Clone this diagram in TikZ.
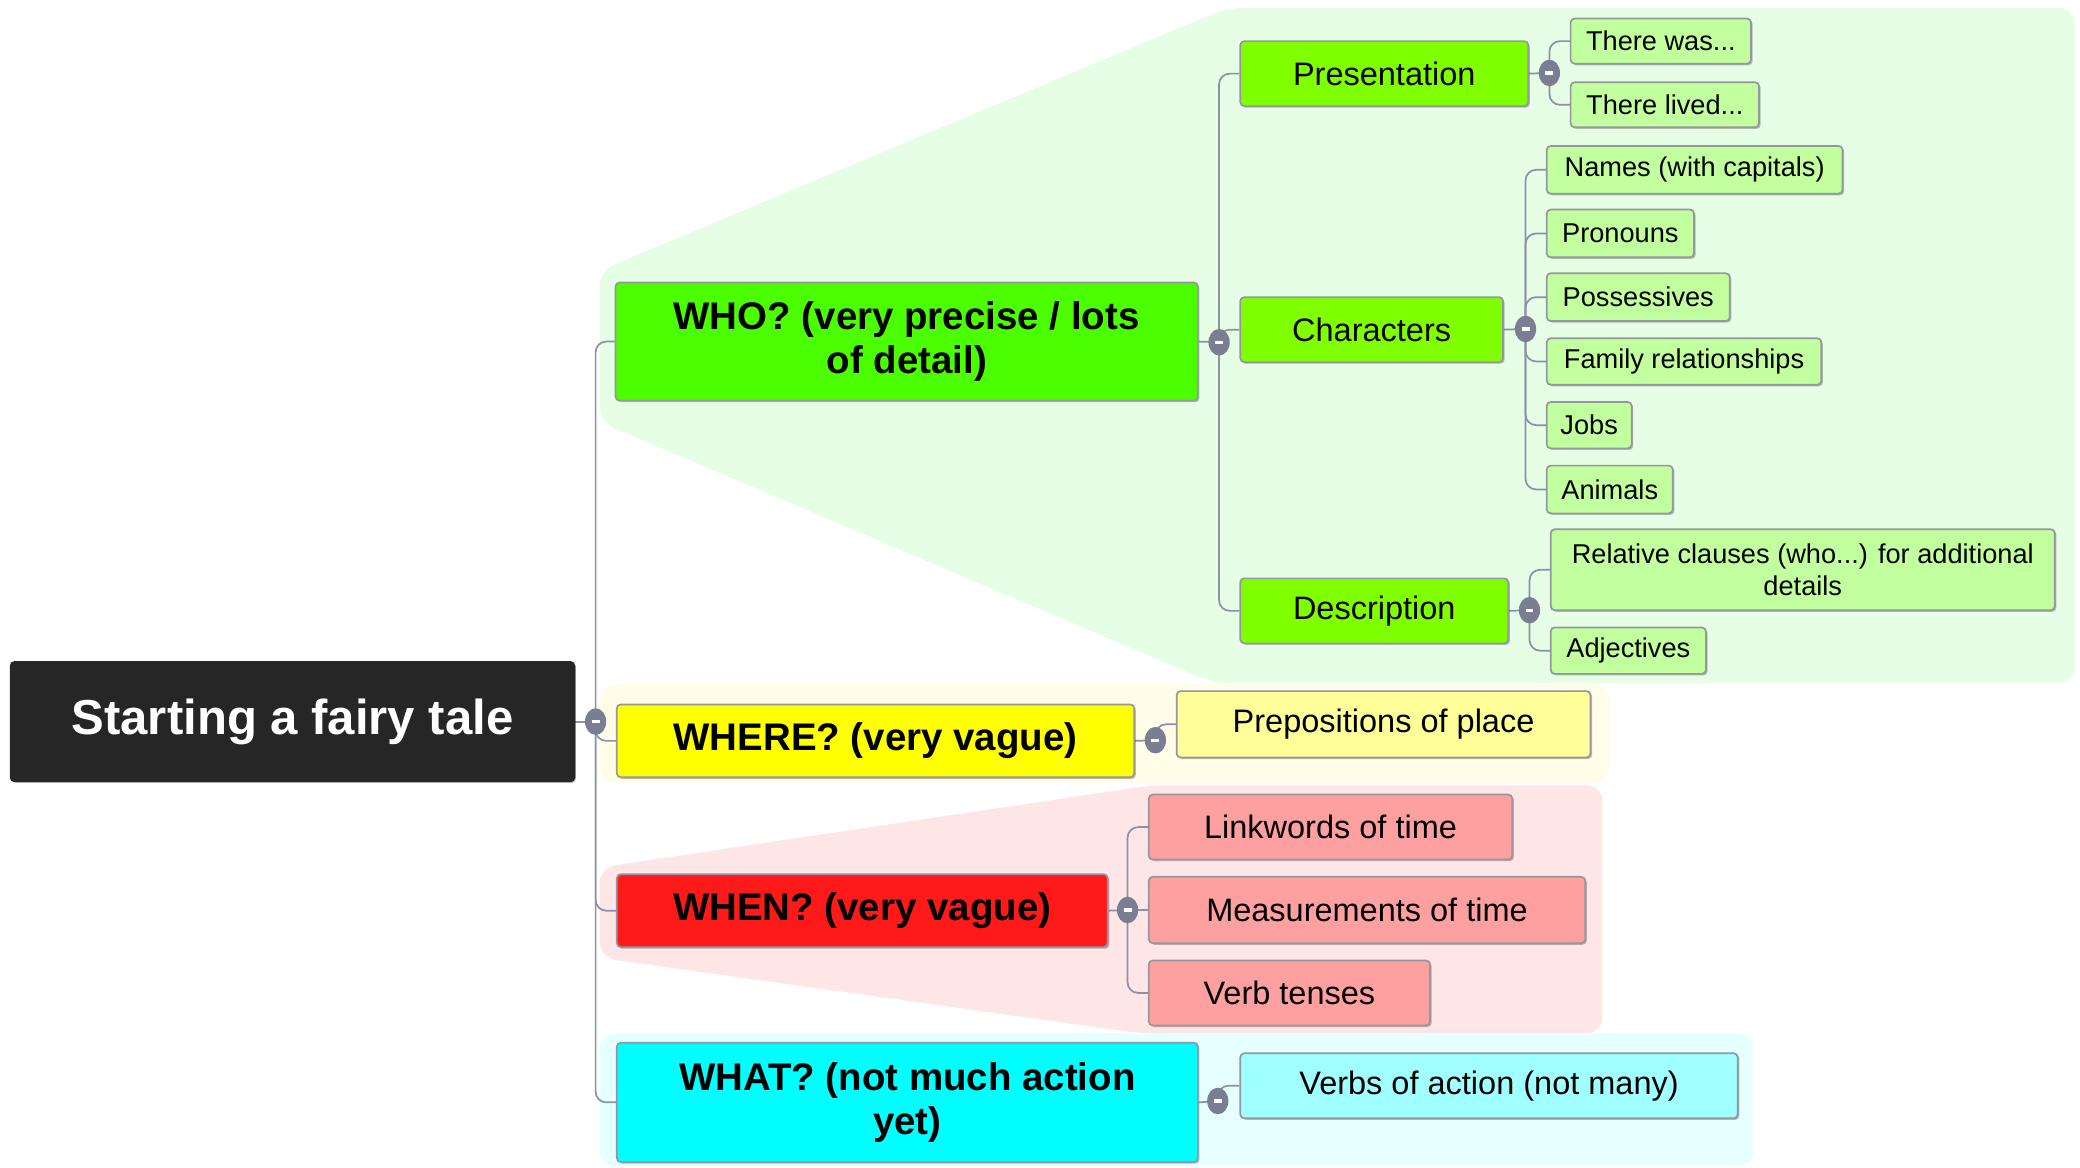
\documentclass[tikz,border=0pt]{standalone}
\usepackage{fontspec}
\setmainfont{Liberation Sans}
\usetikzlibrary{shapes.geometric,shadows}
\definecolor{rootfill}{RGB}{38,38,38}
\definecolor{whofill}{RGB}{76,255,0}
\definecolor{greentwo}{RGB}{128,255,0}
\definecolor{greenthree}{RGB}{194,255,158}
\definecolor{wherefill}{RGB}{255,255,0}
\definecolor{yellowtwo}{RGB}{255,255,153}
\definecolor{whenfill}{RGB}{255,26,26}
\definecolor{redtwo}{RGB}{255,160,160}
\definecolor{whatfill}{RGB}{0,255,255}
\definecolor{cyantwo}{RGB}{160,255,255}
\definecolor{greenbg}{RGB}{230,254,230}
\definecolor{yellowbg}{RGB}{255,253,232}
\definecolor{pinkbg}{RGB}{255,230,230}
\definecolor{cyanbg}{RGB}{230,255,255}
\definecolor{connc}{RGB}{140,145,165}
\definecolor{knobc}{RGB}{122,126,146}
\definecolor{edgec}{RGB}{150,150,160}
\pgfdeclarelayer{bgl}
\pgfdeclarelayer{cnl}
\pgfsetlayers{bgl,cnl,main}
\newcommand{\knobminus}{\textcolor{white}{\rule{6pt}{2.4pt}}}
\begin{document}
\begin{tikzpicture}[x=1pt,y=-1pt,
  anybox/.style={draw=edgec, line width=1.3pt, rounded corners=3pt, inner sep=0pt,
     align=center, text=black,
     drop shadow={shadow xshift=1.2pt, shadow yshift=-1.2pt, opacity=0.25, fill=black}},
  rootbox/.style={anybox, fill=rootfill, text=white, draw=rootfill,
     font=\fontsize{37}{41}\selectfont\bfseries},
  lvone/.style={anybox, font=\fontsize{29}{33}\selectfont\bfseries},
  lvtwo/.style={anybox, font=\fontsize{24.5}{28}\selectfont},
  lvthree/.style={anybox, font=\fontsize{20.5}{24}\selectfont},
  collapse/.style={ellipse, fill=knobc, inner sep=0pt, minimum width=16pt, minimum height=20pt},
  conn/.style={draw=connc, line width=1.3pt, rounded corners=8pt}
]
\useasboundingbox (0,0) rectangle (1568,880);

% group backgrounds
\begin{pgfonlayer}{bgl}
\fill[white] (0,0) rectangle (1568,880);
\fill[greenbg, rounded corners=12pt] (452,204) -- (925,6) -- (1564,6) -- (1564,515) -- (915,515) -- (452,318) -- cycle;
\fill[yellowbg, rounded corners=12pt] (452,516) rectangle (1213,590);
\fill[pinkbg, rounded corners=12pt] (452,654) -- (868,592) -- (1208,592) -- (1208,779) -- (860,779) -- (452,722) -- cycle;
\fill[cyanbg, rounded corners=12pt] (452,779) rectangle (1322,879);
\end{pgfonlayer}

% root
\node[rootbox, minimum width=425pt, minimum height=90pt] (root) at (220.5,544) {Starting a fairy tale};

% level one
\node[lvone, fill=whofill, minimum width=439pt, minimum height=89pt] (who) at (683.5,257.5) {WHO? (very precise / lots\\of detail)};
\node[lvone, fill=wherefill, minimum width=390pt, minimum height=55pt] (where) at (660,558.5) {WHERE? (very vague)};
\node[lvone, fill=whenfill, minimum width=370pt, minimum height=55pt] (when) at (650,686.5) {WHEN? (very vague)};
\node[lvone, fill=whatfill, minimum width=438pt, minimum height=90pt] (what) at (684,831) {WHAT? (not much action\\yet)};

% level two
\node[lvtwo, fill=greentwo, minimum width=217pt, minimum height=49pt] (pres) at (1043.5,55.5) {Presentation};
\node[lvtwo, fill=greentwo, minimum width=198pt, minimum height=49pt] (chars) at (1034,248.5) {Characters};
\node[lvtwo, fill=greentwo, minimum width=202pt, minimum height=49pt] (desc) at (1036,460.5) {Description};
\node[lvtwo, fill=yellowtwo, minimum width=312pt, minimum height=50pt] (prep) at (1043,546) {Prepositions of place};
\node[lvtwo, fill=redtwo, minimum width=274pt, minimum height=49pt] (link) at (1003,623.5) {Linkwords of time};
\node[lvtwo, fill=redtwo, minimum width=329pt, minimum height=50pt] (meas) at (1030.5,686) {Measurements of time};
\node[lvtwo, fill=redtwo, minimum width=212pt, minimum height=49pt] (tense) at (972,748.5) {Verb tenses};
\node[lvtwo, fill=cyantwo, minimum width=375pt, minimum height=49pt] (verbs) at (1122.5,818.5) {Verbs of action (not many)};

% level three
\node[lvthree, fill=greenthree, minimum width=136pt, minimum height=34pt] (was) at (1252,31) {There was...};
\node[lvthree, fill=greenthree, minimum width=142pt, minimum height=34pt] (lived) at (1255,79) {There lived...};
\node[lvthree, fill=greenthree, minimum width=223pt, minimum height=36pt] (names) at (1277.5,128) {Names (with capitals)};
\node[lvthree, fill=greenthree, minimum width=111pt, minimum height=36pt] (pron) at (1221.5,176) {Pronouns};
\node[lvthree, fill=greenthree, minimum width=138pt, minimum height=36pt] (poss) at (1235,224) {Possessives};
\node[lvthree, fill=greenthree, minimum width=207pt, minimum height=35pt] (family) at (1269.5,272.5) {Family relationships};
\node[lvthree, fill=greenthree, minimum width=64pt, minimum height=35pt] (jobs) at (1198,320.5) {Jobs};
\node[lvthree, fill=greenthree, minimum width=95pt, minimum height=36pt] (animals) at (1213.5,369) {Animals};
\node[lvthree, fill=greenthree, minimum width=380pt, minimum height=61pt] (rel) at (1359,429.5) {Relative clauses (who...) for additional\\details};
\node[lvthree, fill=greenthree, minimum width=117pt, minimum height=35pt] (adj) at (1227.5,490.5) {Adjectives};

% collapse knobs
\node[collapse] (k0) at (449,544) {\knobminus};
\node[collapse] (kwho) at (919,258) {\knobminus};
\node[collapse] (kpres) at (1168,55) {\knobminus};
\node[collapse] (kchars) at (1150,248) {\knobminus};
\node[collapse] (kdesc) at (1153,460) {\knobminus};
\node[collapse] (kwhere) at (871,558) {\knobminus};
\node[collapse] (kwhen) at (850,686) {\knobminus};
\node[collapse] (kwhat) at (918,830) {\knobminus};

% connectors
\begin{pgfonlayer}{cnl}
\draw[conn] (root.east) -- (k0.center);
\foreach \n in {who,where,when,what} \draw[conn] (k0.center) |- (\n.west);
\draw[conn] (who.east) -- (kwho.center);
\foreach \n in {pres,chars,desc} \draw[conn] (kwho.center) |- (\n.west);
\draw[conn] (pres.east) -- (kpres.center);
\foreach \n in {was,lived} \draw[conn] (kpres.center) |- (\n.west);
\draw[conn] (chars.east) -- (kchars.center);
\foreach \n in {names,pron,poss,family,jobs,animals} \draw[conn] (kchars.center) |- (\n.west);
\draw[conn] (desc.east) -- (kdesc.center);
\foreach \n in {rel,adj} \draw[conn] (kdesc.center) |- (\n.west);
\draw[conn] (where.east) -- (kwhere.center);
\draw[conn] (kwhere.center) |- (prep.west);
\draw[conn] (when.east) -- (kwhen.center);
\foreach \n in {link,meas,tense} \draw[conn] (kwhen.center) |- (\n.west);
\draw[conn] (what.east) -- (kwhat.center);
\draw[conn] (kwhat.center) |- (verbs.west);
\end{pgfonlayer}
\end{tikzpicture}
\end{document}
